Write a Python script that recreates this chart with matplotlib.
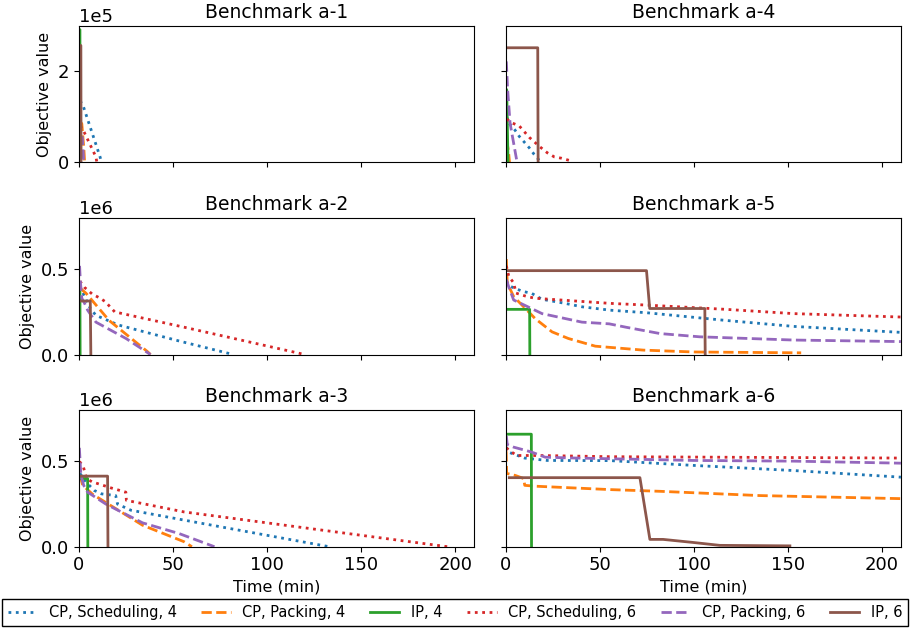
import matplotlib

matplotlib.use("Agg")
import matplotlib.pyplot as plt
from matplotlib.ticker import ScalarFormatter

SERIES = [
    "CP, Scheduling, 4",
    "CP, Packing, 4",
    "IP, 4",
    "CP, Scheduling, 6",
    "CP, Packing, 6",
    "IP, 6",
]
STYLES = [":", "--", "-", ":", "--", "-"]
COLORS = ["#1f77b4", "#ff7f0e", "#2ca02c", "#d62728", "#9467bd", "#8c564b"]

# (time in min, objective value) per series
A1 = {
    "CP, Scheduling, 4": ([0.5, 2, 11.2, 12], [1.35e5, 1.27e5, 0.12e5, 0]),
    "CP, Packing, 4": ([0.5, 1.5, 2.6, 3], [0.9e5, 0.85e5, 0.3e5, 0]),
    "IP, 4": ([0, 0.5, 0.6], [2.92e5, 2.92e5, 0]),
    "CP, Scheduling, 6": ([0.5, 2, 9, 9.5], [0.8e5, 0.73e5, 0.12e5, 0]),
    "CP, Packing, 6": ([0.5, 1.8, 2.5], [0.57e5, 0.55e5, 0]),
    "IP, 6": ([0, 1.0, 1.1], [2.57e5, 2.57e5, 0]),
}
A2 = {
    "CP, Scheduling, 4": ([0.5, 3, 6, 9, 21, 53, 82],
                          [4.0e5, 3.4e5, 2.7e5, 2.3e5, 1.73e5, 0.8e5, 0]),
    "CP, Packing, 4": ([0.5, 3.7, 16, 36.5, 38], [3.9e5, 3.6e5, 2.0e5, 0.16e5, 0]),
    "IP, 4": ([0, 0.5, 0.6], [3.8e5, 3.8e5, 0]),
    "CP, Scheduling, 6": ([0.5, 2.8, 7, 11.3, 14, 19, 56, 120],
                          [4.3e5, 3.95e5, 3.55e5, 3.3e5, 3.1e5, 2.5e5, 1.6e5, 0]),
    "CP, Packing, 6": ([0.3, 0.8, 1.5, 3, 4.6, 9, 25, 38],
                       [5.2e5, 4.2e5, 3.3e5, 3.0e5, 2.6e5, 1.9e5, 0.94e5, 0]),
    "IP, 6": ([0.3, 6, 6.3], [3.14e5, 3.14e5, 0]),
}
A3 = {
    "CP, Scheduling, 4": ([0.5, 3.7, 8.1, 12, 19.5, 20.5, 27.6, 55.9, 133],
                          [4.3e5, 3.8e5, 3.3e5, 3.1e5, 3.0e5, 2.5e5, 2.14e5, 1.56e5, 0]),
    "CP, Packing, 4": ([0.5, 2, 7.3, 33.8, 55.9, 60],
                       [4.2e5, 3.6e5, 3.07e5, 1.26e5, 0.29e5, 0]),
    "IP, 4": ([0.3, 4.6, 4.7], [4.0e5, 4.0e5, 0]),
    "CP, Scheduling, 6": ([0.3, 2.3, 4, 7, 10, 17, 24.9, 25.2, 36.5, 55.9, 196],
                          [5.0e5, 4.7e5, 4.0e5, 3.8e5, 3.7e5, 3.45e5, 3.2e5,
                           2.72e5, 2.47e5, 2.04e5, 0]),
    "CP, Packing, 6": ([0.2, 1, 2.5, 4.6, 14.3, 33.8, 53, 72],
                       [5.8e5, 4.2e5, 3.6e5, 3.2e5, 2.5e5, 1.4e5, 0.78e5, 0]),
    "IP, 6": ([0.5, 15.2, 15.4], [4.14e5, 4.14e5, 0]),
}
A4 = {
    "CP, Scheduling, 4": ([0.5, 2, 4.9, 7.2, 12.5, 15, 17.3, 18],
                          [1.0e5, 0.85e5, 0.71e5, 0.57e5, 0.32e5, 0.18e5, 0.07e5, 0]),
    "CP, Packing, 4": ([0.5, 1.5, 2], [0.5e5, 0.22e5, 0]),
    "IP, 4": ([0, 0.5, 1.2], [1.6e5, 1.6e5, 0]),
    "CP, Scheduling, 6": ([0.5, 3.2, 7.2, 12.5, 18.2, 22.1, 25.8, 29.7, 34],
                          [0.95e5, 0.87e5, 0.8e5, 0.55e5, 0.34e5, 0.21e5,
                           0.12e5, 0.09e5, 0.04e5]),
    "CP, Packing, 6": ([0.3, 1, 2.3, 5.8, 6], [2.22e5, 1.6e5, 0.86e5, 0.05e5, 0]),
    "IP, 6": ([0, 17, 17.2], [2.52e5, 2.52e5, 0]),
}
A5 = {
    "CP, Scheduling, 4": ([0.3, 2.4, 9, 13.6, 19.3, 31.6, 40.5, 55.6, 75, 117, 153, 210],
                          [4.3e5, 4.0e5, 3.7e5, 3.6e5, 3.24e5, 3.0e5, 2.8e5,
                           2.6e5, 2.45e5, 2.0e5, 1.65e5, 1.3e5]),
    "CP, Packing, 4": ([0.3, 0.8, 4.2, 11.3, 15.7, 24.6, 33.3, 47.6, 73, 100, 157],
                       [5.6e5, 4.2e5, 3.4e5, 2.6e5, 2.1e5, 1.33e5, 0.94e5,
                        0.49e5, 0.26e5, 0.15e5, 0.1e5]),
    "IP, 4": ([0.3, 12.7, 12.8], [2.65e5, 2.65e5, 0]),
    "CP, Scheduling, 6": ([0.3, 1.6, 4.2, 5.5, 11.3, 15.7, 55.6, 75, 117, 153, 210],
                          [5.2e5, 4.6e5, 4.2e5, 3.6e5, 3.4e5, 3.3e5, 3.0e5,
                           2.9e5, 2.65e5, 2.4e5, 2.2e5]),
    "CP, Packing, 6": ([0.3, 1.5, 4.2, 19.3, 40.5, 55, 64, 82, 103, 153, 210],
                       [4.4e5, 4.0e5, 3.2e5, 2.4e5, 1.9e5, 1.8e5, 1.6e5,
                        1.23e5, 1.04e5, 0.85e5, 0.76e5]),
    "IP, 6": ([0.5, 74.8, 76.5, 105.8, 106], [4.92e5, 4.92e5, 2.7e5, 2.7e5, 0]),
}
A6 = {
    "CP, Scheduling, 4": ([0.3, 1.4, 10, 22, 55.6, 99.6, 152.7, 210],
                          [5.85e5, 5.55e5, 5.2e5, 5.06e5, 5.05e5, 4.77e5, 4.47e5, 4.08e5]),
    "CP, Packing, 4": ([0.2, 0.5, 5.1, 9.5, 10.1, 15.7, 55.6, 82, 135, 210],
                       [5.6e5, 4.3e5, 4.18e5, 4.0e5, 3.6e5, 3.55e5, 3.35e5,
                        3.25e5, 3.0e5, 2.82e5]),
    "IP, 4": ([0.3, 13.6, 13.7], [6.6e5, 6.6e5, 0]),
    "CP, Scheduling, 6": ([0.3, 2.4, 6, 18.4, 55.6, 210],
                          [5.8e5, 5.6e5, 5.35e5, 5.35e5, 5.28e5, 5.2e5]),
    "CP, Packing, 6": ([0.3, 0.8, 4.2, 10.9, 14, 21, 33.4, 55.6, 99.6, 152.7, 210],
                       [6.5e5, 6.0e5, 5.84e5, 5.64e5, 5.54e5, 5.25e5, 5.21e5,
                        5.16e5, 5.06e5, 5.02e5, 4.9e5]),
    "IP, 6": ([1.9, 71.3, 76.6, 83.6, 99.6, 113.7, 151],
              [4.05e5, 4.05e5, 0.43e5, 0.43e5, 0.25e5, 0.08e5, 0.05e5]),
}

PANELS = [
    ("Benchmark a-1", A1), ("Benchmark a-4", A4),
    ("Benchmark a-2", A2), ("Benchmark a-5", A5),
    ("Benchmark a-3", A3), ("Benchmark a-6", A6),
]
ROW_YMAX = [3e5, 8e5, 8e5]
ROW_YTICKS = [[0, 2e5], [0, 5e5], [0, 5e5]]
ROW_EXPONENT = [5, 6, 6]
XTICKS = [0, 50, 100, 150, 200]

fig, axes = plt.subplots(3, 2, figsize=(9.1, 6.33), dpi=100, sharex=True, sharey="row")
fig.subplots_adjust(left=0.0868, right=0.990, top=0.959, bottom=0.1363,
                    wspace=0.08, hspace=0.409)

for index, (title, data) in enumerate(PANELS):
    row, col = divmod(index, 2)
    ax = axes[row, col]
    for name, style, color in zip(SERIES, STYLES, COLORS):
        times, values = data[name]
        ax.plot(times, values, linestyle=style, color=color, linewidth=2, label=name)
    ax.set_title(title, fontsize=13.5)
    ax.set_xlim(0, 210)
    ax.set_ylim(0, ROW_YMAX[row])
    ax.set_yticks(ROW_YTICKS[row])
    ax.set_xticks(XTICKS)
    formatter = ScalarFormatter()
    formatter.set_powerlimits((ROW_EXPONENT[row], ROW_EXPONENT[row]))
    ax.yaxis.set_major_formatter(formatter)
    ax.yaxis.offsetText.set_fontsize(13)
    ax.tick_params(labelsize=13)
    if col == 0:
        ax.set_ylabel("Objective value", fontsize=11.5)
    if row == 2:
        ax.set_xlabel("Time (min)", fontsize=11.5)

handles, labels = axes[0, 0].get_legend_handles_labels()
fig.legend(handles, labels, loc="lower center", bbox_to_anchor=(0.5, 0.0), ncol=6,
           fontsize=10.5, columnspacing=1.7, fancybox=False, edgecolor="black",
           framealpha=1)

fig.savefig("out.png", dpi=100)
